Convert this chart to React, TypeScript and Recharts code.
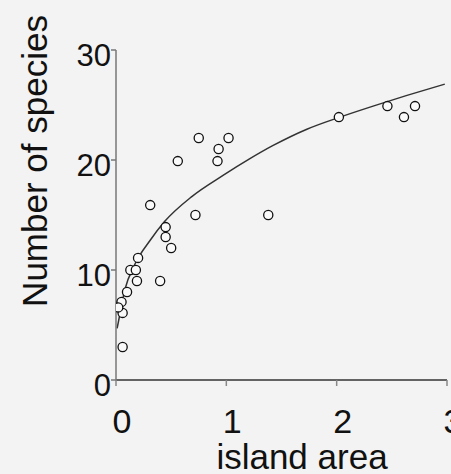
import { ComposedChart, Line, Scatter, XAxis, YAxis } from 'recharts'

// observed islands
const areaX = [
  0.06, 0.06, 0.05, 0.02, 0.1, 0.13, 0.18, 0.19, 0.2, 0.31, 0.4, 0.45, 0.45,
  0.5, 0.56, 0.72, 0.75, 0.92, 0.93, 1.02, 1.38, 2.02, 2.46, 2.61, 2.71,
]
const speciesY = [
  3, 6.1, 7.1, 6.6, 8, 10, 10, 9, 11.1, 15.9, 9, 13.9, 13, 12, 19.9, 15, 22,
  19.9, 21, 22, 15, 23.9, 24.9, 23.9, 24.9,
]

// fitted curve
const fitX = [
  0.01, 0.02, 0.08, 0.17, 0.31, 0.44, 0.69, 0.97, 1.21, 1.42, 1.73, 2.03,
  2.33, 2.63, 2.98,
]
const fitY = [
  4.7, 5.2, 8.2, 10.5, 12.7, 14.4, 16.7, 18.6, 20.1, 21.3, 22.8, 23.9, 24.9,
  25.85, 26.9,
]

const xTicks = [0, 1, 2, 3]
const yTicks = [0, 10, 20, 30]

const points = areaX.map((x, i) => ({ x, y: speciesY[i] }))
const fit = fitX.map((x, i) => ({ x, y: fitY[i] }))

const FONT = '"Liberation Sans", Arial, sans-serif'

function XTick({ x, y, payload }: any) {
  return (
    <text x={x + 6} y={y + 45} textAnchor="middle" fontFamily={FONT} fontSize={34} fill="#111">
      {payload.value}
    </text>
  )
}

function YTick({ x, y, payload }: any) {
  return (
    <text x={x + 2} y={y + 16} textAnchor="end" fontFamily={FONT} fontSize={31} fill="#111">
      {payload.value}
    </text>
  )
}

function Ring({ cx, cy }: any) {
  return <circle cx={cx} cy={cy} r={4.6} fill="#fafafa" stroke="#111" strokeWidth={1.3} />
}

export default function App() {
  return (
    <div style={{ position: 'absolute', left: 0, top: 0, width: 451, height: 474, background: '#f3f3f3', overflow: 'hidden' }}>
      <ComposedChart width={451} height={474} margin={{ top: 50, right: 4, left: 0, bottom: 0 }}>
        <XAxis
          type="number"
          dataKey="x"
          domain={[0, 3]}
          ticks={xTicks}
          height={94}
          tickSize={6}
          stroke="#333"
          strokeWidth={1.5}
          tickLine={{ stroke: '#888' }}
          tick={<XTick />}
          allowDataOverflow
          label={{
            content: () => (
              <text x={302} y={469} textAnchor="middle" fontFamily={FONT} fontSize={35} fill="#111">
                island area
              </text>
            ),
          }}
        />
        <YAxis
          type="number"
          dataKey="y"
          domain={[0, 30]}
          ticks={yTicks}
          width={116}
          tickSize={5}
          stroke="#777"
          strokeWidth={1.5}
          tick={<YTick />}
          label={{
            content: () => (
              <text
                x={47}
                y={161}
                transform="rotate(-90, 47, 161)"
                textAnchor="middle"
                fontFamily={FONT}
                fontSize={35}
                fill="#111"
              >
                Number of species
              </text>
            ),
          }}
        />
        <Line
          data={fit}
          dataKey="y"
          type="monotone"
          stroke="#333"
          strokeWidth={1.5}
          dot={false}
          activeDot={false}
          isAnimationActive={false}
        />
        <Scatter data={points} dataKey="y" shape={<Ring />} isAnimationActive={false} />
      </ComposedChart>
    </div>
  )
}
